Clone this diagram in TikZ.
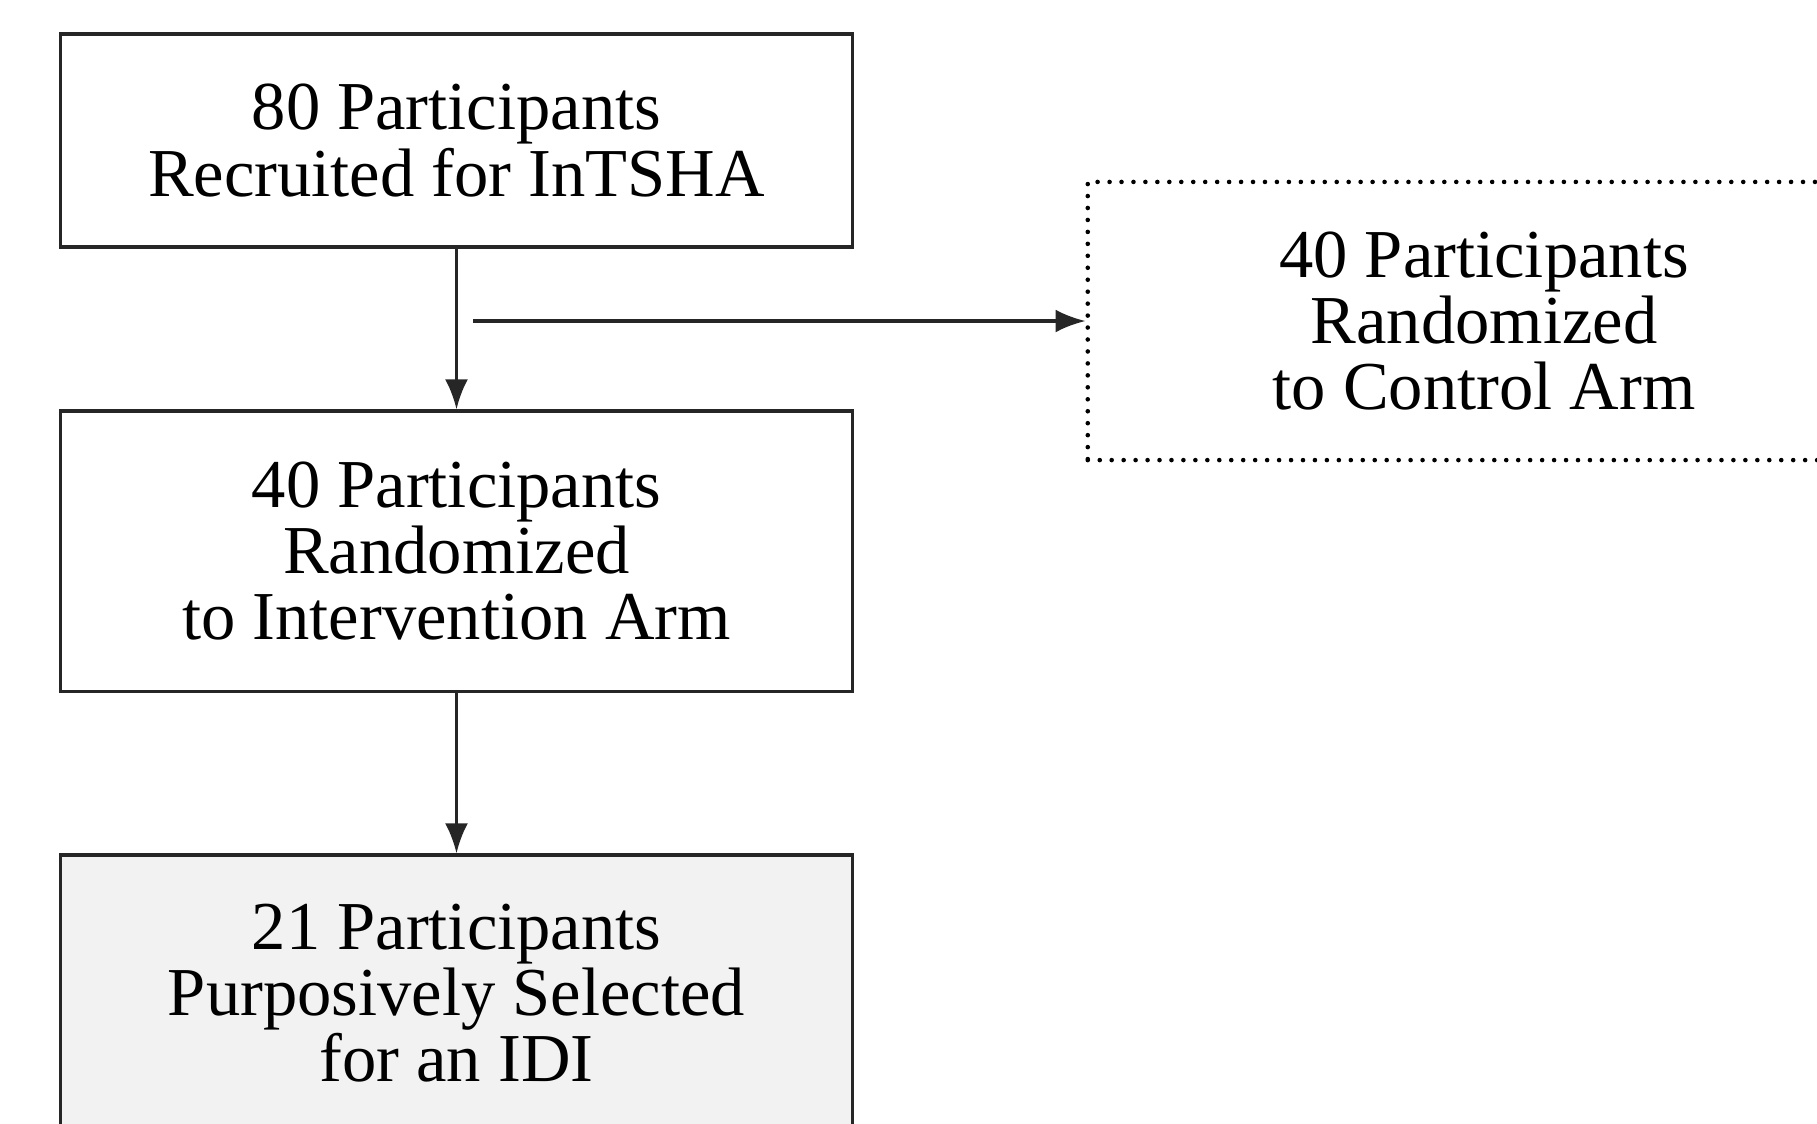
\documentclass[tikz,border=0pt]{standalone}
\usepackage{fontspec}
\setmainfont{Liberation Serif}
\usetikzlibrary{arrows.meta,positioning,calc}
\colorlet{c1}{black!5}
\colorlet{c2}{black!85}

\begin{document}
\begin{tikzpicture}[>={Latex[length=8.5pt,width=6.5pt]}, x=0.01cm, y=-0.01cm, line width=0.9pt]
\tikzstyle{stage}=[draw=c2,fill=white,align=center,minimum width=7.91cm,
  font=\fontsize{19.5}{18.8}\selectfont]
\tikzstyle{arm}=[stage,draw=black,dash pattern=on 0pt off 3.4pt,line cap=round,line width=1.3pt]
\useasboundingbox (0,0) rectangle (1817,1123);
\node[stage, minimum height=2.13cm] (recruit) at (456.5,140.5) {80 Participants\\Recruited for InTSHA};
\node[stage, minimum height=2.80cm] (intervention) at (456.5,551) {40 Participants\\Randomized\\to Intervention Arm};
\node[stage, fill=c1, minimum height=2.76cm] (idi) at (456.5,993) {21 Participants\\Purposively Selected\\for an IDI};
\node[arm, minimum width=7.92cm, minimum height=2.78cm] (control) at (1484,321) {40 Participants\\Randomized\\to Control Arm};
\coordinate (split) at (473,321);
\draw[->, c2] (recruit) -- (intervention);
\draw[->, c2] (intervention) -- (idi);
\draw[->, c2] (split) -- (control.west);
\end{tikzpicture}
\end{document}
